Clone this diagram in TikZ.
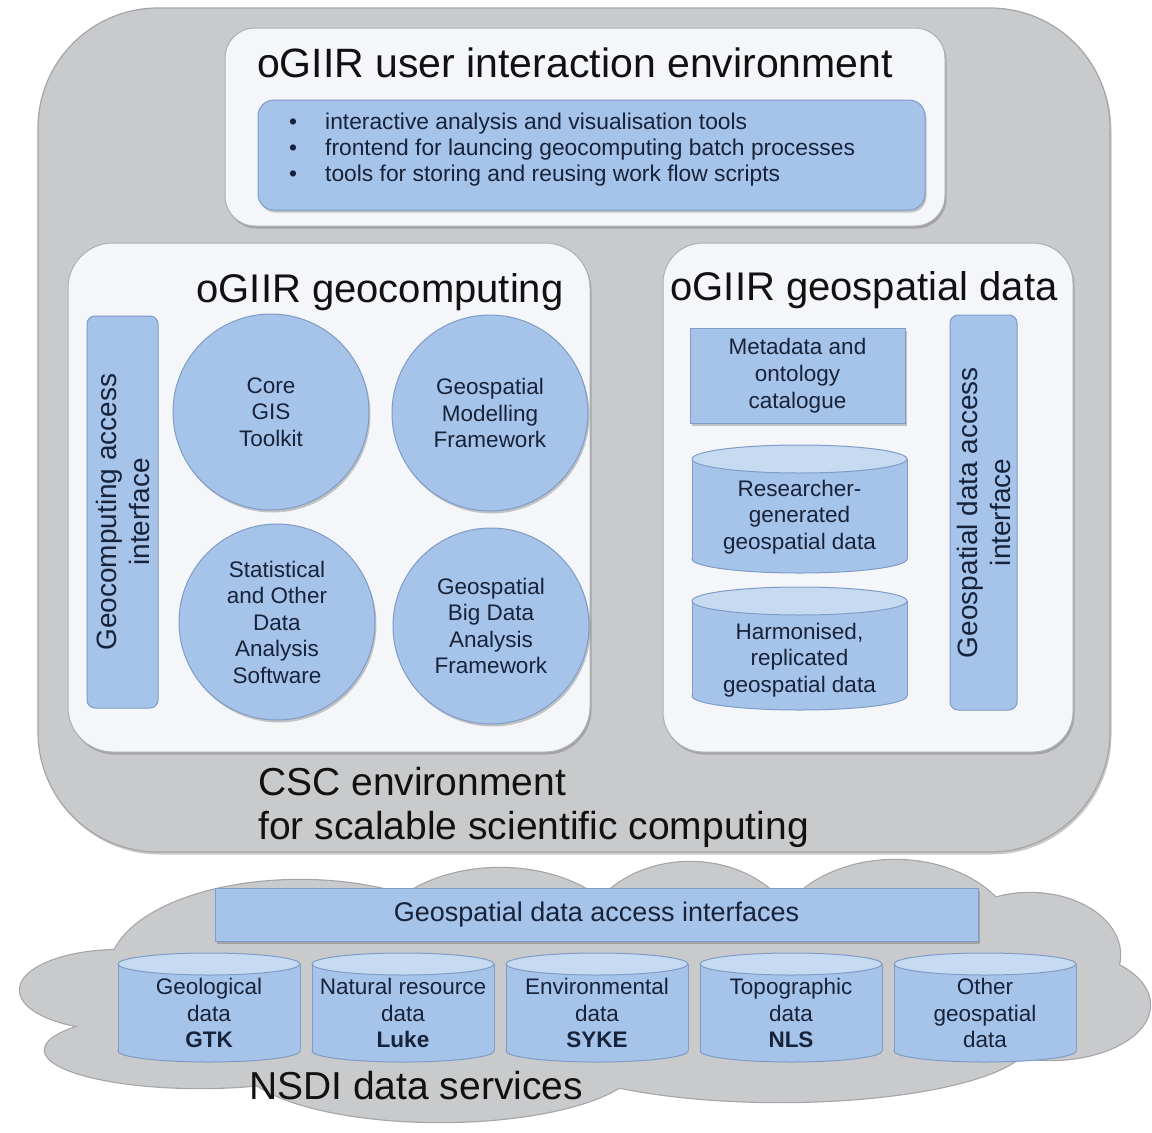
\documentclass[tikz,border=0pt]{standalone}
\usepackage{fontspec}
\setmainfont{Liberation Sans}
\usetikzlibrary{shadows,calc}
\definecolor{greyfill}{HTML}{C9CACC}
\definecolor{greyline}{HTML}{A3A5A8}
\definecolor{panelfill}{HTML}{F4F6F9}
\definecolor{panelline}{HTML}{ADB0B4}
\definecolor{bluefill}{HTML}{A6C3E9}
\definecolor{blueline}{HTML}{7F9CC6}
\definecolor{bluetop}{HTML}{C6DAF2}
\definecolor{navytext}{HTML}{17233A}
\definecolor{titletext}{HTML}{111111}
\newcommand\fsz[2]{\fontsize{#1}{#2}\selectfont}
\newcommand\cylshape[5]{%
  \draw[blueline, line width=1pt, fill=bluefill] ({(#1+#2)/2},#4) ellipse [x radius={(#2-#1)/2}, y radius=#5];
  \fill[bluefill] (#1,#3) rectangle (#2,#4);
  \draw[blueline, line width=1pt] (#1,#3) -- (#1,#4) (#2,#3) -- (#2,#4);
  \draw[blueline, line width=1pt, fill=bluetop] ({(#1+#2)/2},#3) ellipse [x radius={(#2-#1)/2}, y radius=#5];
}
\tikzset{
  sh/.style={drop shadow={shadow xshift=1.5pt, shadow yshift=-2.5pt, opacity=0.3, fill=black!70}},
  cscbox/.style={draw=greyline, fill=greyfill, line width=1.2pt, rounded corners=120pt, inner sep=0pt, sh},
  panel/.style={draw=panelline, fill=panelfill, line width=1pt, inner sep=0pt, sh},
  bluebox/.style={draw=blueline, fill=bluefill, line width=1pt, inner sep=0pt, sh},
  bluerect/.style={draw=blueline, fill=bluefill, line width=1pt, inner sep=0pt, align=center, font=\fsz{22.5}{27}, text=navytext, sh},
  vbar/.style={draw=blueline, fill=bluefill, line width=1pt, rounded corners=8pt, align=center, font=\fsz{28}{33}, text=navytext, inner sep=0pt},
  circ/.style={circle, draw=blueline, fill=bluefill, line width=1pt, minimum size=196pt, inner sep=0pt, align=center, font=\fsz{22.5}{26.5}, text=navytext, sh},
  cyltext/.style={align=center, font=\fsz{22.5}{26.5}, text=navytext, inner sep=0pt},
  titlefont/.style={font=\fsz{40}{46}, text=titletext, inner sep=0pt},
  itemtext/.style={font=\fsz{22.8}{26}, text=navytext, inner sep=0pt},
}
\begin{document}
\begin{tikzpicture}[x=1pt,y=-1pt]
\useasboundingbox (0,0) rectangle (1152,1133);
\fill[white] (0,0) rectangle (1152,1133);

% ---- CSC environment
\node[cscbox, minimum width=1072pt, minimum height=844pt] (csc) at (574,430) {};
\node[anchor=base west, font=\fsz{39}{46}, text=titletext, inner sep=0pt] (cscA) at (258,795) {CSC environment};
\node[anchor=base west, font=\fsz{39}{46}, text=titletext, inner sep=0pt] (cscB) at (258,839) {for scalable scientific computing};

% ---- user interaction environment
\node[panel, rounded corners=30pt, minimum width=720pt, minimum height=198pt] (uie) at (585,127) {};
\node[anchor=base, titlefont, font=\fsz{41}{46}] (uiet) at (575,77) {oGIIR user interaction environment};
\node[bluebox, rounded corners=16pt, minimum width=667pt, minimum height=110pt] (uib) at (591.5,155) {};
\node[anchor=base, itemtext] (b1) at (293,129) {•};
\node[anchor=base, itemtext] (b2) at (293,155) {•};
\node[anchor=base, itemtext] (b3) at (293,181) {•};
\node[anchor=base west, itemtext] (t1) at (325,129) {interactive analysis and visualisation tools};
\node[anchor=base west, itemtext] (t2) at (325,155) {frontend for launcing geocomputing batch processes};
\node[anchor=base west, itemtext] (t3) at (325,181) {tools for storing and reusing work flow scripts};

% ---- geocomputing
\node[panel, rounded corners=45pt, minimum width=522pt, minimum height=509pt] (geo) at (329,497.5) {};
\node[anchor=base, titlefont] (geot) at (380,302) {oGIIR geocomputing};
\node[vbar, rotate=90, minimum width=392pt, minimum height=71pt] (gai) at (122.5,512) {Geocomputing access\\interface};
\node[circ] (core) at (271,412) {Core\\GIS\\Toolkit};
\node[circ] (gmf) at (490,413) {Geospatial\\Modelling\\Framework};
\node[circ] (stat) at (277,622) {Statistical\\and Other\\Data\\Analysis\\Software};
\node[circ] (gbd) at (491,626) {Geospatial\\Big Data\\Analysis\\Framework};

% ---- geospatial data
\node[panel, rounded corners=40pt, minimum width=410pt, minimum height=509pt] (gsd) at (868,497.5) {};
\node[anchor=base, titlefont] (gsdt) at (864,300) {oGIIR geospatial data};
\node[bluerect, minimum width=215pt, minimum height=95pt] (meta) at (797.5,375.5) {Metadata and\\ontology\\catalogue};
\cylshape{692}{907}{459}{559}{14}
\node[cyltext] (res) at (799.5,517) {Researcher-\\generated\\geospatial data};
\cylshape{692}{907}{601}{696}{14}
\node[cyltext] (harm) at (799.5,660) {Harmonised,\\replicated\\geospatial data};
\node[vbar, rotate=90, minimum width=395pt, minimum height=67pt] (gdai) at (983.5,512.5) {Geospatial data access\\interface};

% ---- NSDI cloud
\foreach \cx/\cy/\rx/\ry in {300/970/190/90, 500/952/130/84, 690/950/110/88, 895/952/125/92, 1030/955/90/62, 1050/1005/100/55, 120/990/100/40, 200/1050/155/38, 440/1060/200/62, 780/1040/250/62, 580/1000/420/80}
  \draw[greyline, line width=2.4pt] (\cx,\cy) ellipse [x radius=\rx, y radius=\ry];
\foreach \cx/\cy/\rx/\ry in {300/970/190/90, 500/952/130/84, 690/950/110/88, 895/952/125/92, 1030/955/90/62, 1050/1005/100/55, 120/990/100/40, 200/1050/155/38, 440/1060/200/62, 780/1040/250/62, 580/1000/420/80}
  \fill[greyfill] (\cx,\cy) ellipse [x radius=\rx, y radius=\ry];

\node[bluerect, minimum width=763pt, minimum height=53pt, font=\fsz{27}{32}] (gdais) at (596.5,914.5) {Geospatial data access interfaces};

\cylshape{118}{300}{964}{1051}{11}
\node[cyltext] (gtk) at (209,1013) {Geological\\data\\\textbf{GTK}};
\cylshape{312}{494}{964}{1051}{11}
\node[cyltext] (luke) at (403,1013) {Natural resource\\data\\\textbf{Luke}};
\cylshape{506}{688}{964}{1051}{11}
\node[cyltext] (syke) at (597,1013) {Environmental\\data\\\textbf{SYKE}};
\cylshape{700}{882}{964}{1051}{11}
\node[cyltext] (nls) at (791,1013) {Topographic\\data\\\textbf{NLS}};
\cylshape{894}{1076}{964}{1051}{11}
\node[cyltext] (other) at (985,1013) {Other\\geospatial\\data};

\node[anchor=base west, font=\fsz{39}{46}, text=titletext, inner sep=0pt] (nsdi) at (249,1099) {NSDI data services};
\end{tikzpicture}
\end{document}
